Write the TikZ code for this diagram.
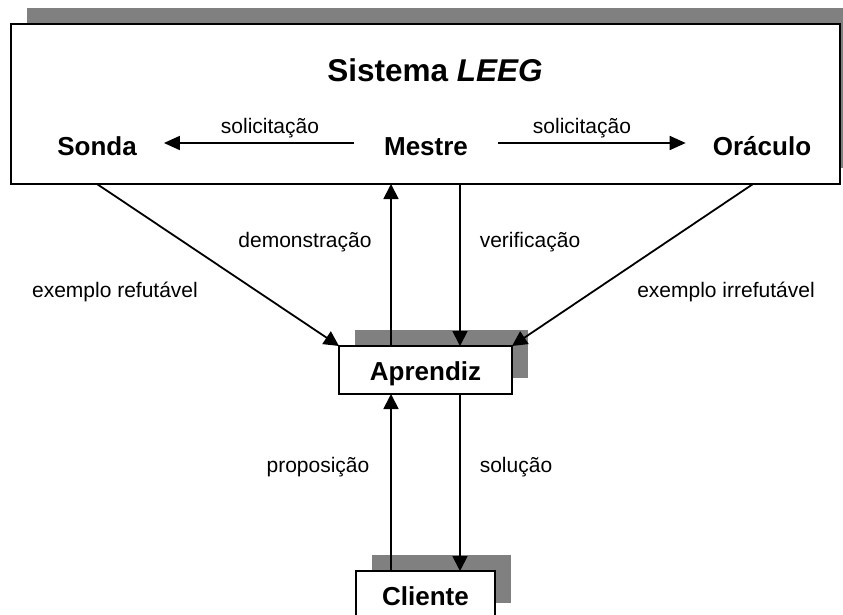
\documentclass[tikz,border=0pt]{standalone}
\usepackage{fontspec}
\setmainfont{Liberation Sans}
\usetikzlibrary{arrows.meta,shadows}
\definecolor{shadowgray}{HTML}{808080}
\begin{document}
\begin{tikzpicture}[x=1pt,y=-1pt,
  shadowed/.style={drop shadow={shadow xshift=16pt,shadow yshift=16pt,fill=shadowgray,opacity=1}},
  box/.style={draw=black,line width=2pt,fill=white,outer sep=0pt,shadowed,
    font=\fontsize{26}{30}\selectfont\bfseries,text height=20pt,text depth=0pt},
  bold/.style={inner sep=0pt,anchor=base,font=\fontsize{26}{30}\selectfont\bfseries},
  lbl/.style={inner sep=0pt,anchor=base,font=\fontsize{21}{25}\selectfont},
  conn/.style={line width=1.8pt},
  varr/.style={conn,-{Triangle[length=15pt,width=15pt]}},
  harr/.style={conn,-{Triangle[length=16pt,width=14pt]}}
]
\path[use as bounding box] (0,0) rectangle (843,615);
\clip (0,0) rectangle (843,615);
% boxes
\node[box,minimum width=829pt,minimum height=160pt] (sys) at (425.5,104) {};
\node[box,minimum width=173pt,minimum height=48pt] (apr) at (425.5,370) {Aprendiz};
\node[box,minimum width=139pt,minimum height=48pt] (cli) at (425.5,595) {Cliente};
% texts inside system box
\node[inner sep=0pt,anchor=base,font=\fontsize{31.5}{36}\selectfont\bfseries] (title) at (435,82) {Sistema \textit{LEEG}};
\node[bold] (sonda) at (97,155) {Sonda};
\node[bold] (mestre) at (426,155) {Mestre};
\node[bold] (oraculo) at (762,155) {Oráculo};
% labels
\node[lbl] (sol1) at (270,134) {solicitação};
\node[lbl] (sol2) at (582,134) {solicitação};
\node[lbl] (dem) at (305,247) {demonstração};
\node[lbl] (ver) at (530,247) {verificação};
\node[lbl] (exr) at (115,297) {exemplo refutável};
\node[lbl] (exi) at (726,297) {exemplo irrefutável};
\node[lbl] (prop) at (318,472) {proposição};
\node[lbl] (solu) at (516,472) {solução};
% connectors inside
\draw[harr] ([shift={(-30pt,12pt)}]mestre.base west) -- ([shift={(27pt,12pt)}]sonda.base east);
\draw[harr] ([shift={(30pt,12pt)}]mestre.base east) -- ([shift={(-27pt,12pt)}]oraculo.base west);
% system <-> aprendiz
\draw[varr] ([xshift=-34.5pt]apr.north) -- ([xshift=-34.5pt]apr.north |- sys.south);
\draw[varr] ([xshift=34.5pt]apr.north |- sys.south) -- ([xshift=34.5pt]apr.north);
\draw[varr] ([xshift=86pt]sys.south west) -- (apr.north west);
\draw[varr] ([xshift=-87pt]sys.south east) -- (apr.north east);
% aprendiz <-> cliente
\draw[varr] ([xshift=-34.5pt]cli.north) -- ([xshift=-34.5pt]apr.south);
\draw[varr] ([xshift=34.5pt]apr.south) -- ([xshift=34.5pt]cli.north);
\end{tikzpicture}
\end{document}
